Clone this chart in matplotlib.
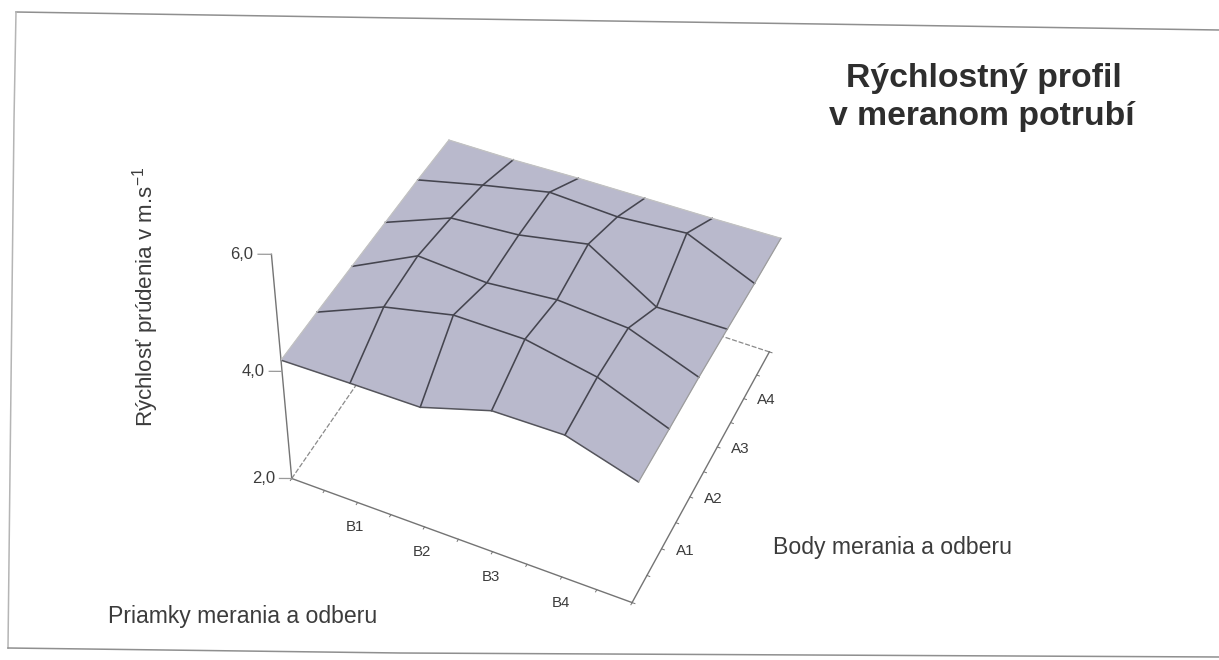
import numpy as np
import matplotlib
matplotlib.use('Agg')
import matplotlib.pyplot as plt
from matplotlib.lines import Line2D
from mpl_toolkits.mplot3d import proj3d

plt.rcParams['font.family'] = ['Liberation Sans', 'DejaVu Sans']
plt.rcParams['mathtext.default'] = 'regular'

# Surface values (m/s) - one list per measuring row, front to back
row_0 = [4.20, 4.22, 4.23, 4.61, 4.63, 4.26]
row_1 = [4.17, 4.67, 4.94, 4.94, 4.71, 4.24]
row_2 = [4.13, 4.71, 4.64, 4.75, 4.67, 4.23]
row_3 = [4.09, 4.55, 4.64, 4.87, 4.17, 4.19]
row_4 = [4.05, 4.33, 4.58, 4.53, 4.63, 4.14]
row_5 = [3.99, 4.00, 4.04, 4.06, 4.08, 4.11]

b_labels = ['B1', 'B2', 'B3', 'B4']
a_labels = ['A1', 'A2', 'A3', 'A4']
z_ticks = [2.0, 4.0, 6.0]
z_labels = ['2,0', '4,0', '6,0']

title_1 = 'Rýchlostný profil'
title_2 = 'v meranom potrubí'
y_title = 'Rýchlosť prúdenia v m.s$^{-1}$'
a_title = 'Body merania a odberu'
b_title = 'Priamky merania a odberu'

W, H = 1219, 660
K, CX, CY = 3249.7, 537.2, 306.4
TXT = '#3c3c3c'
AXC = '#747474'

fig = plt.figure(figsize=(W / 100, H / 100), dpi=100)
ax = fig.add_axes([(CX - .095 * K) / W, (H - CY - .095 * K) / H, .185 * K / W, .185 * K / H],
                  projection='3d', computed_zorder=False)
ax.set_xlim(0, 5)
ax.set_ylim(0, 5)
ax.set_zlim(2, 6)
ax.view_init(45.7192, -65.7871, -0.5946)
ax.set_proj_type('persp', focal_length=0.8167)
ax.set_box_aspect((1.1764, 1.1591, 1.0), zoom=1)
ax.set_axis_off()


def label3d(x, y, z, s, **kw):
    px, py, _ = proj3d.proj_transform(x, y, z, ax.get_proj())
    ax.text2D(px, py, s, transform=ax.transData, ha=kw.pop('ha', 'center'), va='center', color=TXT, **kw)


Z = np.array([row_0, row_1, row_2, row_3, row_4, row_5])
gx = np.arange(Z.shape[1], dtype=float)
gy = np.arange(Z.shape[0], dtype=float)
X, Y = np.meshgrid(gx, gy)
zlo, zhi = z_ticks[0], z_ticks[-1]
xm, ym = gx[-1], gy[-1]

# hidden floor edges, then visible axes
ax.plot([0, 0], [0, ym], [zlo, zlo], color='#8a8a8a', lw=.9, ls=(0, (4, 1.5)), zorder=1)
ax.plot([0, xm], [ym, ym], [zlo, zlo], color='#8a8a8a', lw=.9, ls=(0, (4, 1.5)), zorder=1)
ax.plot([0, 0], [0, 0], [zlo, zhi], color=AXC, lw=1.0, zorder=1)
ax.plot([0, xm], [0, 0], [zlo, zlo], color=AXC, lw=1.0, zorder=1)
ax.plot([xm, xm], [0, ym], [zlo, zlo], color=AXC, lw=1.0, zorder=1)

for t in np.arange(0, xm + .01, .5):
    ax.plot([t, t], [0, -.04], [zlo, zlo], color=AXC, lw=.7, zorder=1)
for t in np.arange(0, ym + .01, .5):
    ax.plot([xm, xm + .04], [t, t], [zlo, zlo], color=AXC, lw=.7, zorder=1)
for v, lab in zip(z_ticks, z_labels):
    ax.plot([0, -.15], [0, -.07], [v, v], color='#9a9a9a', lw=.9, zorder=1)
    label3d(-.2, -.1, v, lab, ha='right', fontsize=12)
for i, lab in enumerate(b_labels):
    label3d(gx[i + 1] + .16, -.40, zlo, lab, fontsize=10.8)
for i, lab in enumerate(a_labels):
    label3d(xm + .295, gy[i + 1] + .105, zlo, lab, fontsize=11)

ax.plot_surface(X, Y, Z, rstride=1, cstride=1, color='#b9b9cc', shade=False,
                edgecolor='#b9b9cc', linewidth=.4, zorder=2)

for j in range(1, len(gy) - 1):
    ax.plot(gx, np.full_like(gx, gy[j]), Z[j], color='#45454f', lw=1.15, zorder=3)
for i in range(1, len(gx) - 1):
    ax.plot(np.full_like(gy, gx[i]), gy, Z[:, i], color='#45454f', lw=1.15, zorder=3)
ax.plot(gx, np.zeros_like(gx), Z[0], color='#55555c', lw=1.1, zorder=3)
ax.plot(gx, np.full_like(gx, ym), Z[-1], color='#c2c2c2', lw=.9, zorder=3)
ax.plot(np.zeros_like(gy), gy, Z[:, 0], color='#c2c2c2', lw=.9, zorder=3)
ax.plot(np.full_like(gy, xm), gy, Z[:, -1], color='#9c9c9c', lw=.9, zorder=3)


def fx(px):
    return px / W


def fy(py):
    return 1 - py / H


# texts
fig.text(fx(983.5), fy(87), title_1, ha='center', va='baseline', fontsize=24.3,
         fontweight='bold', color='#2e2e2e')
fig.text(fx(982), fy(125), title_2, ha='center', va='baseline', fontsize=24.3,
         fontweight='bold', color='#2e2e2e')
fig.text(fx(146), fy(296.5), y_title, rotation=90, ha='center', va='center', fontsize=16.1, color=TXT)
fig.text(fx(773), fy(554), a_title, ha='left', va='baseline', fontsize=16.6, color=TXT)
fig.text(fx(108), fy(623), b_title, ha='left', va='baseline', fontsize=16.6, color=TXT)

# scanned page frame
frame_top_x = [16, 400, 820, 1219]
frame_top_y = [12, 18, 24, 30]
frame_left_x = [16, 14, 8]
frame_left_y = [12, 120, 648]
frame_bot_x = [8, 400, 1219]
frame_bot_y = [648, 653, 657]
fig.add_artist(Line2D([fx(v) for v in frame_top_x], [fy(v) for v in frame_top_y], color='#8f8f8f', lw=1.1))
fig.add_artist(Line2D([fx(v) for v in frame_left_x], [fy(v) for v in frame_left_y], color='#b5b5b5', lw=1.1))
fig.add_artist(Line2D([fx(v) for v in frame_bot_x], [fy(v) for v in frame_bot_y], color='#8f8f8f', lw=1.1))

fig.savefig('out.png', dpi=100)
